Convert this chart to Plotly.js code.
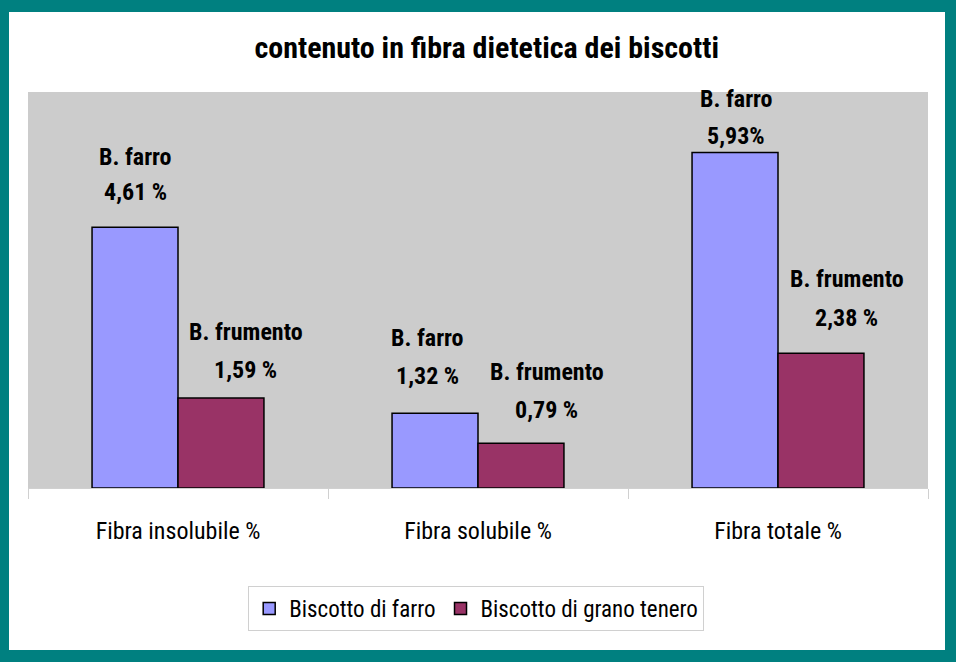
<!DOCTYPE html>
<html>
<head>
<meta charset="utf-8">
<script src="https://cdn.plot.ly/plotly-3.0.1.min.js"></script>
<style>
  html, body { margin: 0; padding: 0; background: #ffffff; }
  #chart { position: absolute; left: 0; top: 0; width: 960px; height: 664px; }
  #frame { position: absolute; left: 0; top: 0; width: 956px; height: 662px; box-sizing: border-box;
           border-style: solid; border-color: #008080; border-width: 12px 11px 12px 9px; pointer-events: none; }
</style>
</head>
<body>
<div id="chart"></div>
<div id="frame"></div>
<script>
// ---- data ----
const categories = ["Fibra insolubile %", "Fibra solubile %", "Fibra totale %"];
const seriesNames = ["Biscotto di farro", "Biscotto di grano tenero"];
const farroValues = [4.61, 1.32, 5.93];
const frumentoValues = [1.59, 0.79, 2.38];
const farroShort = "B. farro";
const frumentoShort = "B. frumento";
const farroLabels = ["4,61 %", "1,32 %", "5,93%"];
const frumentoLabels = ["1,59 %", "0,79 %", "2,38 %"];

// ---- styling ----
const FONT = "'Liberation Sans Narrow', 'Arial Narrow', 'Roboto Condensed', 'DejaVu Sans Condensed', sans-serif";
const BARGAP = 0.427;
const barW = (1 - BARGAP) / 2;

const traces = [
  { type: "bar", name: seriesNames[0], x: categories, y: farroValues,
    marker: { color: "#9999FF", line: { color: "#000000", width: 1.5 } }, hoverinfo: "skip" },
  { type: "bar", name: seriesNames[1], x: categories, y: frumentoValues,
    marker: { color: "#993366", line: { color: "#000000", width: 1.5 } }, hoverinfo: "skip" }
];

// label placement tweaks (pixels): [xshift extra, line1 offset above bar top, line2 offset]
const farroPos = [[0, 70, 35], [-8, 75, 37], [1, 54, 17]];
const frumentoPos = [[25, 66, 28], [26, 71, 33], [26, 74, 35]];

const annotations = [];
function addLabels(values, labels, shortName, pos, sideSign) {
  values.forEach((v, i) => {
    const xc = i + sideSign * barW / 2;
    const common = { xref: "x", yref: "y", x: xc, y: v, showarrow: false,
      xanchor: "center", yanchor: "middle", xshift: pos[i][0],
      font: { family: FONT, size: 24, color: "#000000" } };
    annotations.push(Object.assign({}, common, { text: "<b>" + shortName + "</b>", yshift: pos[i][1] }));
    annotations.push(Object.assign({}, common, { text: "<b>" + labels[i] + "</b>", yshift: pos[i][2] }));
  });
}
addLabels(farroValues, farroLabels, farroShort, farroPos, -1);
addLabels(frumentoValues, frumentoLabels, frumentoShort, frumentoPos, 1);

const layout = {
  width: 960, height: 664,
  margin: { l: 28, r: 32, t: 92, b: 176 },
  paper_bgcolor: "#ffffff",
  plot_bgcolor: "#cccccc",
  barmode: "group",
  bargap: BARGAP,
  bargroupgap: 0,
  title: { text: "<b>contenuto in fibra dietetica dei biscotti</b>",
    font: { family: FONT, size: 30, color: "#000000" },
    x: 0.507, xanchor: "center", y: 0.929, yanchor: "middle", xref: "container", yref: "container" },
  xaxis: {
    type: "category",
    showline: true, linecolor: "#d0d0d0", linewidth: 1,
    ticks: "outside", tickson: "boundaries", ticklen: 10, tickcolor: "#d0d0d0", tickwidth: 1,
    tickfont: { family: FONT, size: 24, color: "#000000" },
    ticklabelstandoff: 21,
    showgrid: false, zeroline: false, fixedrange: true
  },
  yaxis: {
    range: [0, 7], showticklabels: false, ticks: "", showgrid: false, zeroline: false,
    showline: false, fixedrange: true
  },
  showlegend: true,
  legend: {
    orientation: "h", x: 0.498, xanchor: "center", y: -0.2475, yanchor: "top",
    bordercolor: "#d0d0d0", borderwidth: 1, bgcolor: "#ffffff",
    font: { family: FONT, size: 23, color: "#000000" },
    traceorder: "normal"
  },
  annotations: annotations
};

Plotly.newPlot("chart", traces, layout, { staticPlot: true, displayModeBar: false });
</script>
</body>
</html>
